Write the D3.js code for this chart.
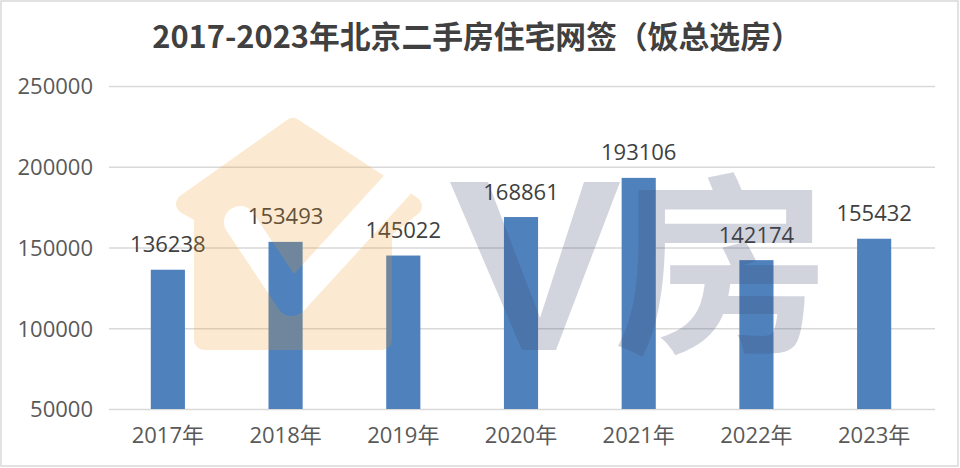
<!DOCTYPE html>
<html><head><meta charset="utf-8">
<script src="https://cdn.jsdelivr.net/npm/d3@7/dist/d3.min.js"></script>
<style>
html,body{margin:0;padding:0;background:#fff;}
text{font-family:"Open Sans","Noto Sans CJK SC",sans-serif;}
</style></head>
<body>
<svg id="chart" width="960" height="468"></svg>
<script>
const title = "2017-2023年北京二手房住宅网签（饭总选房）";
const categories = ["2017年","2018年","2019年","2020年","2021年","2022年","2023年"];
const values = [136238,153493,145022,168861,193106,142174,155432];
const yTicks = [50000,100000,150000,200000,250000];

const svg = d3.select("#chart");
const W = 960, H = 468;
const x = d3.scaleBand().domain(categories).range([109, 933]).paddingInner(0.71).paddingOuter(0.355);
const y = d3.scaleLinear().domain([50000, 250000]).range([409, 86]);

// frame
svg.append("rect").attr("x",1).attr("y",1).attr("width",957).attr("height",465)
  .attr("fill","#fff").attr("stroke","#d9d9d9").attr("stroke-width",1.5);

// title
svg.append("text").attr("x",477).attr("y",48).attr("text-anchor","middle")
  .attr("font-size",30.8).attr("font-weight","bold").attr("fill","#404040")
  .style("font-family",'"Noto Sans CJK SC",sans-serif').text(title);

// grid
const yAxis = d3.axisLeft(y).tickValues(yTicks).tickSize(-(935-109)).tickPadding(16).tickFormat(d3.format("d"));
const gy = svg.append("g").attr("transform","translate(109,0)").call(yAxis);
gy.select(".domain").remove();
gy.selectAll(".tick line").attr("stroke","#d9d9d9").attr("stroke-width",1.3).attr("x2",935-109);
gy.selectAll(".tick text").attr("font-size",22).attr("fill","#595959").attr("dy","0.36em")
  .style("font-family",'"Open Sans",sans-serif');

// x axis labels
const xAxis = d3.axisBottom(x).tickSize(0).tickPadding(0);
const gx = svg.append("g").attr("transform","translate(0,409)").call(xAxis);
gx.select(".domain").remove();
gx.selectAll(".tick text").attr("font-size",22).attr("fill","#595959").attr("y",34).attr("dy",0);

// bars
svg.append("g").selectAll("rect").data(values).join("rect")
  .attr("x",(d,i)=>x(categories[i])).attr("width",x.bandwidth())
  .attr("y",d=>y(d)).attr("height",d=>y(50000)-y(d))
  .attr("fill","#4f81bd");

// value labels
svg.append("g").selectAll("text").data(values).join("text")
  .attr("x",(d,i)=>x(categories[i])+x.bandwidth()/2).attr("y",d=>y(d)-17.5)
  .attr("text-anchor","middle").attr("font-size",22).attr("fill","#404040").text(d=>d);

// watermark
const defs = svg.append("defs");
const mask = defs.append("mask").attr("id","chk");
mask.append("rect").attr("x",0).attr("y",0).attr("width",W).attr("height",H).attr("fill","#fff");
mask.append("path").attr("d","M240,222 L292,300 L398,184").attr("fill","none").attr("stroke","#000")
  .attr("stroke-width",32).attr("stroke-linecap","round").attr("stroke-linejoin","round");
const wm = svg.append("g").attr("pointer-events","none");
wm.append("path")
  .attr("d","M293,128 L412,206 L382,230 L382,340 L204,340 L204,214 L186,204 Z")
  .attr("fill","rgb(240,155,30)").attr("stroke","rgb(240,155,30)").attr("stroke-width",20)
  .attr("stroke-linejoin","round").attr("opacity",0.2).attr("mask","url(#chk)");
wm.append("path")
  .attr("d","M450,182 L488,182 L540,318 L584,182 L620,182 L556,350 L522,350 Z")
  .attr("fill","rgb(60,75,110)").attr("opacity",0.23);
wm.append("text").attr("transform","translate(613,338) scale(1.12,1)").attr("font-size",195).attr("font-weight","bold")
  .style("font-family",'"Noto Sans CJK SC",sans-serif')
  .attr("fill","rgb(60,75,110)").attr("opacity",0.23).text("房");
</script>
</body></html>
